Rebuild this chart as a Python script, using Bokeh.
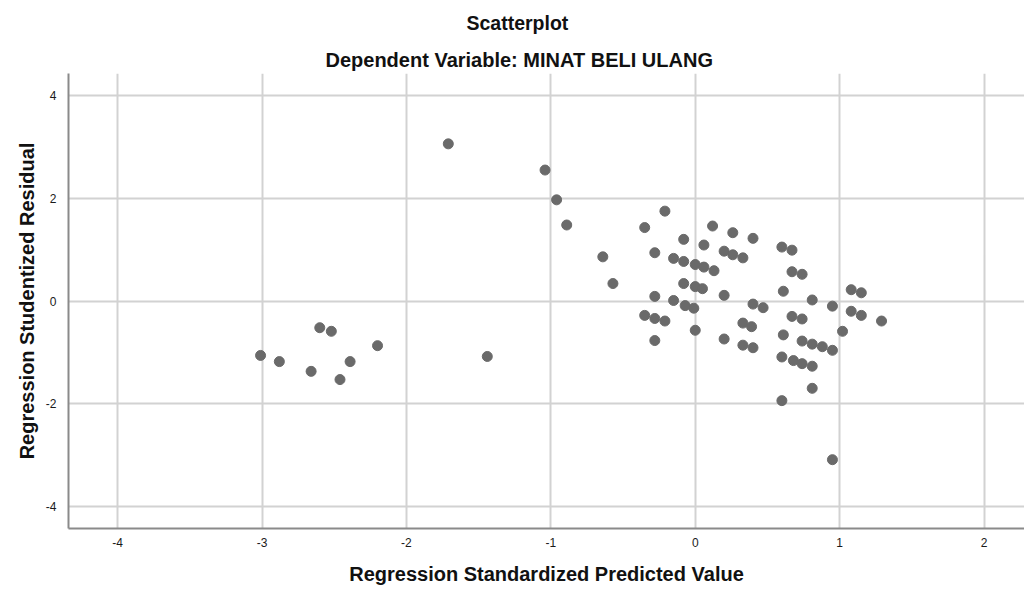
from bokeh.plotting import figure
from bokeh.models import FixedTicker, Title, Range1d
from bokeh.embed import file_html
from bokeh.resources import INLINE

# Data (standardized predicted value, studentized residual)
pred = [-3.01, -2.88, -2.66, -2.60, -2.52, -2.46, -2.39, -2.20, -1.44,
        -1.71, -1.04, -0.96, -0.89, -0.64, -0.57,
        -0.35, -0.21, -0.08, -0.28, -0.15, -0.08, 0.00, -0.08, 0.00, -0.28, -0.15,
        0.12, 0.26, 0.40, 0.06, 0.60, 0.67, 0.20, 0.26, 0.33, 0.06, 0.13, 0.67,
        0.74, 0.05, 0.61, 1.08, 1.15, 0.20, -0.07, -0.01, 0.40, 0.47, 0.81, 0.95,
        1.08, 1.15, 1.29, -0.35, -0.28, -0.21, 0.67, 0.74, 0.33, 0.39, 0.00, 1.02,
        -0.28, 0.20, 0.61, 0.74, 0.81, 0.88, 0.95, 0.33, 0.40, 0.60, 0.68, 0.74,
        0.81, 0.81, 0.60, 0.95]
resid = [-1.06, -1.18, -1.37, -0.52, -0.59, -1.53, -1.18, -0.87, -1.08,
         3.06, 2.55, 1.97, 1.48, 0.86, 0.34,
         1.43, 1.75, 1.20, 0.94, 0.83, 0.77, 0.71, 0.34, 0.28, 0.09, 0.01,
         1.46, 1.33, 1.22, 1.09, 1.05, 0.99, 0.97, 0.90, 0.84, 0.66, 0.59, 0.57,
         0.52, 0.24, 0.19, 0.22, 0.16, 0.11, -0.09, -0.14, -0.06, -0.13, 0.02, -0.10,
         -0.20, -0.28, -0.39, -0.28, -0.34, -0.39, -0.30, -0.35, -0.43, -0.50, -0.57, -0.59,
         -0.77, -0.74, -0.66, -0.78, -0.84, -0.89, -0.96, -0.86, -0.91, -1.09, -1.16, -1.22,
         -1.27, -1.70, -1.94, -3.09]

x_ticks = [-4, -3, -2, -1, 0, 1, 2]
y_ticks = [-4, -2, 0, 2, 4]

FONT = "Liberation Sans"

p = figure(width=1024, height=588, output_backend="svg", toolbar_location=None,
           x_range=Range1d(-4.34, 2.28), y_range=Range1d(-4.43, 4.43),
           min_border_left=68, min_border_right=0, min_border_top=73, min_border_bottom=60)

p.title.text = "Scatterplot"
p.title.align = "left"
p.title.offset = 398
p.title.text_font = FONT
p.title.text_font_size = "19.5px"
p.title.text_font_style = "bold"
p.title.text_color = "#111111"
p.title.standoff = 19
p.add_layout(Title(text="Dependent Variable: MINAT BELI ULANG", align="left", offset=257,
                   text_font=FONT, text_font_size="20px", text_font_style="bold",
                   text_color="#111111", standoff=6), "above")

p.scatter(pred, resid, size=10, color="#6a6a6a", line_color="#6a6a6a")

p.outline_line_color = None
p.background_fill_color = "white"

p.xaxis.ticker = FixedTicker(ticks=x_ticks)
p.yaxis.ticker = FixedTicker(ticks=y_ticks)
p.xaxis.major_label_overrides = {t: str(t) for t in x_ticks}
p.yaxis.major_label_overrides = {t: str(t) for t in y_ticks}

for ax in (p.xaxis[0], p.yaxis[0]):
    ax.axis_line_color = "#8a8a8a"
    ax.axis_line_width = 2
    ax.major_tick_line_color = None
    ax.minor_tick_line_color = None
    ax.major_label_text_font = FONT
    ax.major_label_text_font_size = "12px"
    ax.major_label_text_color = "#1a1a1a"
    ax.axis_label_text_font = FONT
    ax.axis_label_text_font_size = "20px"
    ax.axis_label_text_font_style = "bold"
    ax.axis_label_text_color = "#111111"

p.xaxis.axis_label = "Regression Standardized Predicted Value"
p.yaxis.axis_label = "Regression Studentized Residual"
p.xaxis.major_label_standoff = 3
p.xaxis.axis_label_standoff = 13
p.yaxis.major_label_standoff = 6
p.yaxis.axis_label_standoff = 5

p.xgrid.ticker = FixedTicker(ticks=x_ticks)
p.ygrid.ticker = FixedTicker(ticks=y_ticks)
for g in (p.xgrid[0], p.ygrid[0]):
    g.grid_line_color = "#d2d2d2"
    g.grid_line_width = 2

open("out.html", "w").write(file_html(p, INLINE))
